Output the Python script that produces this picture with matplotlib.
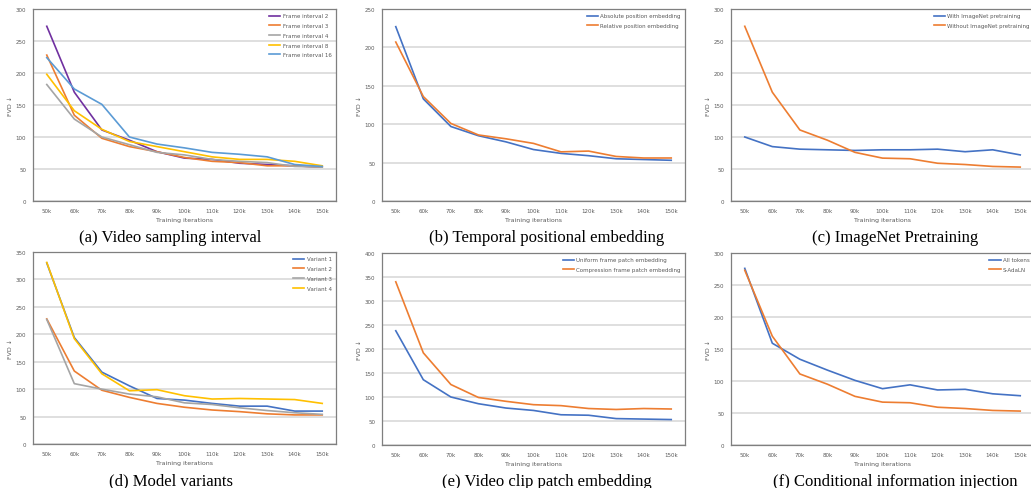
import matplotlib.pyplot as plt

W, H = 1031, 489

iters = ["50k", "60k", "70k", "80k", "90k", "100k", "110k", "120k", "130k", "140k", "150k"]

# (a) Video sampling interval
interval_2 = [273, 170, 111, 95, 77, 67, 65, 59, 57, 55, 53]
interval_3 = [228, 134, 98, 85, 77, 68, 62, 60, 55, 55, 53]
interval_4 = [182, 128, 100, 88, 76, 72, 65, 62, 60, 54, 53]
interval_8 = [198, 141, 112, 93, 85, 77, 69, 65, 65, 62, 55]
interval_16 = [224, 175, 151, 100, 89, 83, 76, 73, 69, 57, 54]

# (b) Temporal positional embedding
absolute_pos = [227, 133, 97, 85, 77, 67, 62, 59, 55, 54, 53]
relative_pos = [207, 136, 101, 86, 81, 75, 64, 65, 58, 56, 56]

# (c) ImageNet pretraining
with_imagenet = [100, 85, 81, 80, 79, 80, 80, 81, 77, 80, 72]
without_imagenet = [273, 170, 111, 95, 76, 67, 66, 59, 57, 54, 53]

# (d) Model variants
variant_1 = [330, 194, 131, 106, 83, 80, 74, 69, 69, 60, 60]
variant_2 = [228, 133, 98, 85, 74, 67, 62, 59, 55, 53, 53]
variant_3 = [227, 110, 100, 91, 86, 75, 72, 66, 61, 57, 54]
variant_4 = [331, 192, 128, 97, 99, 88, 82, 83, 82, 81, 74]

# (e) Video clip patch embedding
uniform_patch = [238, 136, 100, 86, 77, 72, 63, 62, 55, 54, 53]
compression_patch = [340, 192, 126, 99, 91, 84, 82, 76, 74, 76, 75]

# (f) Conditional information injection
all_tokens = [276, 159, 134, 117, 101, 88, 94, 86, 87, 80, 77]
s_adaln = [273, 170, 111, 95, 76, 67, 66, 59, 57, 54, 53]

BLUE = "#4472C4"
ORANGE = "#ED7D31"
GRAY = "#A5A5A5"
YELLOW = "#FFC000"
LIGHTBLUE = "#5B9BD5"
PURPLE = "#7030A0"
TEXT = "#595959"

fig = plt.figure(figsize=(W / 100, H / 100), dpi=100)


def panel(box, series, ymax, caption, cap_x):
    left, top, right, bottom = box
    ax = fig.add_axes([left / W, 1 - bottom / H, (right - left) / W, (bottom - top) / H])
    x = range(len(iters))
    for values, color, label in series:
        ax.plot(x, values, color=color, lw=1.2, label=label)
    ax.set_xlim(-0.5, len(iters) - 0.5)
    ax.set_ylim(0, ymax)
    ax.set_yticks(range(0, ymax + 1, 50))
    ax.set_xticks(list(x))
    ax.set_xticklabels(iters)
    ax.tick_params(length=0, labelsize=4, labelcolor=TEXT, pad=5)
    ax.yaxis.grid(True, color="#d9d9d9", lw=1.2)
    ax.set_axisbelow(True)
    for s in ax.spines.values():
        s.set_color("#7f7f7f")
        s.set_linewidth(0.9)
    ax.set_xlabel("Training iterations", fontsize=4.5, color=TEXT, labelpad=3)
    ax.set_ylabel("FVD ↓", fontsize=4.5, color=TEXT, labelpad=2)
    ax.legend(loc="upper right", frameon=False, fontsize=4.0, handlelength=2.0,
              handletextpad=0.4, labelspacing=0.85, borderaxespad=0.4,
              labelcolor=TEXT)
    fig.text(cap_x / W, 1 - (bottom + 36) / H, caption, ha="center", va="center",
             fontsize=12, family="Liberation Serif")
    return ax


panel((33, 10, 336, 202), [
    (interval_2, PURPLE, "Frame interval 2"),
    (interval_3, ORANGE, "Frame interval 3"),
    (interval_4, GRAY, "Frame interval 4"),
    (interval_8, YELLOW, "Frame interval 8"),
    (interval_16, LIGHTBLUE, "Frame interval 16"),
], 300, "(a) Video sampling interval", 170)

panel((382, 10, 685, 202), [
    (absolute_pos, BLUE, "Absolute position embedding"),
    (relative_pos, ORANGE, "Relative position embedding"),
], 250, "(b) Temporal positional embedding", 547)

panel((731, 10, 1034, 202), [
    (with_imagenet, BLUE, "With ImageNet pretraining"),
    (without_imagenet, ORANGE, "Without ImageNet pretraining"),
], 300, "(c) ImageNet Pretraining", 895)

panel((33, 253, 336, 445), [
    (variant_1, BLUE, "Variant 1"),
    (variant_2, ORANGE, "Variant 2"),
    (variant_3, GRAY, "Variant 3"),
    (variant_4, YELLOW, "Variant 4"),
], 350, "(d) Model variants", 171)

panel((382, 254, 685, 446), [
    (uniform_patch, BLUE, "Uniform frame patch embedding"),
    (compression_patch, ORANGE, "Compression frame patch embedding"),
], 400, "(e) Video clip patch embedding", 547)

panel((731, 254, 1034, 446), [
    (all_tokens, BLUE, "All tokens"),
    (s_adaln, ORANGE, "S-AdaLN"),
], 300, "(f) Conditional information injection", 895)

fig.savefig("out.png", dpi=100)
